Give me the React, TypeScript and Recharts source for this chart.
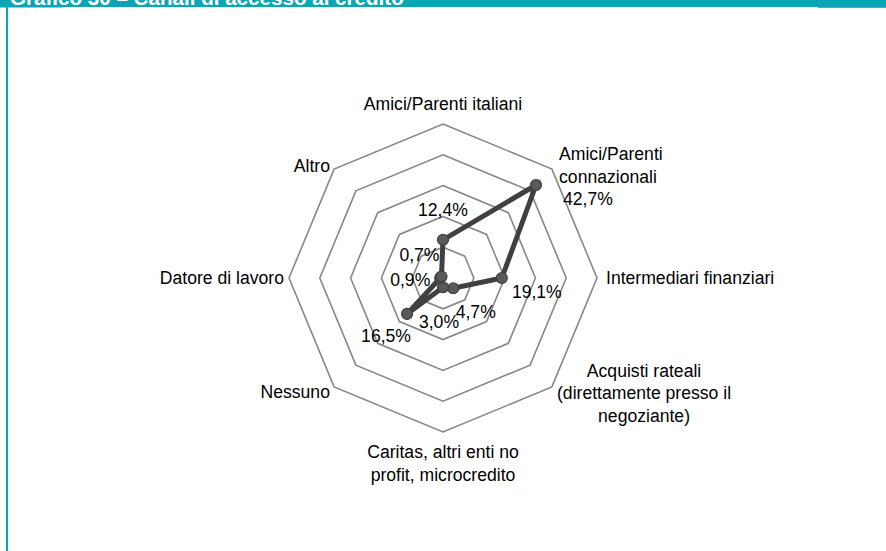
import React from 'react';
import { RadarChart, Radar, PolarGrid, PolarAngleAxis, PolarRadiusAxis } from 'recharts';

// ---- data ----
const title = 'Grafico 30 – Canali di accesso al credito';
const categories = [
  'Amici/Parenti italiani',
  'Amici/Parenti\nconnazionali',
  'Intermediari finanziari',
  'Acquisti rateali\n(direttamente presso il\nnegoziante)',
  'Caritas, altri enti no\nprofit, microcredito',
  'Nessuno',
  'Datore di lavoro',
  'Altro',
];
const values = [12.4, 42.7, 19.1, 4.7, 3.0, 16.5, 0.9, 0.7];
const radiusDomain = [0, 50];
const radiusTickCount = 6;

const data = categories.map((c, i) => ({ category: c, value: values[i] }));

// ---- layout / style ----
const W = 886;
const H = 551;
const TEAL = '#0AA6B6';
const FONT = '"Liberation Sans", Arial, sans-serif';
const FS = 17.6;
const LH = 22.6;

// category label placement relative to the tick point the library gives
const CAT_LAYOUT: { anchor: 'start' | 'middle' | 'end'; dx: number; dy: number }[] = [
  { anchor: 'middle', dx: 0, dy: -6 },
  { anchor: 'start', dx: 1.5, dy: -3 },
  { anchor: 'start', dx: 1, dy: 6 },
  { anchor: 'middle', dx: 86.5, dy: -16 },
  { anchor: 'middle', dx: 0, dy: 18 },
  { anchor: 'end', dx: 1.5, dy: 5.5 },
  { anchor: 'end', dx: 3, dy: 6 },
  { anchor: 'end', dx: 1.5, dy: 8.5 },
];
// value label placement relative to each point
const VAL_LAYOUT: { anchor: 'start' | 'middle' | 'end'; dx: number; dy: number }[] = [
  { anchor: 'middle', dx: 0, dy: -24 },
  { anchor: 'start', dx: 27, dy: 20 },
  { anchor: 'middle', dx: 35, dy: 20 },
  { anchor: 'middle', dx: 22.5, dy: 30 },
  { anchor: 'middle', dx: -4, dy: 41 },
  { anchor: 'middle', dx: -21, dy: 28 },
  { anchor: 'middle', dx: -30, dy: 8 },
  { anchor: 'middle', dx: -22, dy: -15 },
];

const fmt = (v: number) => v.toFixed(1).replace('.', ',') + '%';

const CategoryTick = (props: any) => {
  const { x, y, payload } = props;
  const idx = typeof props.index === 'number' ? props.index : categories.indexOf(payload.value);
  const lay = CAT_LAYOUT[idx] || { anchor: 'middle', dx: 0, dy: 0 };
  const lines = String(payload.value).split('\n');
  return (
    <text
      x={x + lay.dx}
      y={y + lay.dy}
      textAnchor={lay.anchor}
      fontFamily={FONT}
      fontSize={FS}
      fill="#000"
    >
      {lines.map((l, i) => (
        <tspan key={i} x={x + lay.dx} y={y + lay.dy + i * LH}>
          {l}
        </tspan>
      ))}
    </text>
  );
};

const DotWithLabel = (props: any) => {
  const { cx, cy, index } = props;
  const lay = VAL_LAYOUT[index];
  return (
    <g key={`dot-${index}`}>
      <circle cx={cx} cy={cy} r={5.5} fill="#595959" stroke="#3f3f3f" strokeWidth={1.2} />
      <text
        x={cx + lay.dx}
        y={cy + lay.dy}
        textAnchor={lay.anchor}
        fontFamily={FONT}
        fontSize={FS}
        fill="#000"
      >
        {fmt(values[index])}
      </text>
    </g>
  );
};

export default function App() {
  return (
    <div
      style={{
        position: 'absolute',
        left: 0,
        top: 0,
        width: W,
        height: H,
        background: '#fff',
        overflow: 'hidden',
      }}
    >
      <RadarChart
        width={W}
        height={H}
        data={data}
        cx={443}
        cy={278}
        outerRadius={154}
        startAngle={90}
        endAngle={-270}
        margin={{ top: 0, right: 0, bottom: 0, left: 0 }}
      >
        <PolarGrid gridType="polygon" radialLines={false} stroke="#878787" strokeWidth={1.6} />
        <PolarRadiusAxis
          type="number"
          domain={radiusDomain}
          tickCount={radiusTickCount}
          tick={false}
          axisLine={false}
        />
        <PolarAngleAxis dataKey="category" tick={<CategoryTick />} tickLine={false} axisLine={false} />
        <Radar
          dataKey="value"
          stroke="#404040"
          strokeWidth={5}
          fill="none"
          fillOpacity={0}
          dot={(p: any) => <DotWithLabel {...p} />}
          isAnimationActive={false}
        />
      </RadarChart>
      <svg
        width={W}
        height={H}
        style={{ position: 'absolute', left: 0, top: 0, pointerEvents: 'none' }}
      >
        <rect x={0} y={0} width={W} height={7} fill={TEAL} />
        <rect x={0} y={0} width={63} height={7.5} fill={TEAL} />
        <rect x={818} y={0} width={68} height={7.8} fill={TEAL} />
        <rect x={6} y={0} width={2} height={H} fill={TEAL} />
        <text x={10} y={4.5} fontFamily={FONT} fontWeight="bold" fontSize={20.6} fill="#fff">
          {title}
        </text>
      </svg>
    </div>
  );
}
